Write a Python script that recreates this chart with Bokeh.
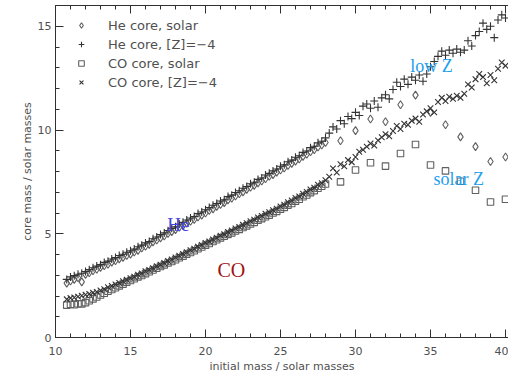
from bokeh.plotting import figure
from bokeh.models import Range1d, LinearAxis, FixedTicker, Legend, LegendItem, Label
from bokeh.embed import file_html
from bokeh.resources import INLINE

# ---------------- data ----------------
# dense model grid, solar and low-Z, 10.75 .. 28.0 Msun
M_DENSE = [10.75, 11.0, 11.25, 11.5, 11.75, 12.0, 12.25, 12.5, 12.75, 13.0,
           13.25, 13.5, 13.75, 14.0, 14.25, 14.5, 14.75, 15.0, 15.25, 15.5,
           15.75, 16.0, 16.25, 16.5, 16.75, 17.0, 17.25, 17.5, 17.75, 18.0,
           18.25, 18.5, 18.75, 19.0, 19.25, 19.5, 19.75, 20.0, 20.25, 20.5,
           20.75, 21.0, 21.25, 21.5, 21.75, 22.0, 22.25, 22.5, 22.75, 23.0,
           23.25, 23.5, 23.75, 24.0, 24.25, 24.5, 24.75, 25.0, 25.25, 25.5,
           25.75, 26.0, 26.25, 26.5, 26.75, 27.0, 27.25, 27.5, 27.75, 28.0]

# sparse solar models 29 .. 40 Msun
M_SOLAR_HI = [29, 30, 31, 32, 33, 34, 35, 36, 37, 38, 39, 40]

# low-Z models above 28 Msun
M_LOWZ_HI = [28.25, 28.5, 28.75, 29.0, 29.25, 29.5, 29.75, 30.0, 30.25, 30.5,
             30.75, 31.0, 31.25, 31.5, 31.75, 32.0, 32.25, 32.5, 32.75, 33.0,
             33.25, 33.5, 33.75, 34.0, 34.25, 34.5, 34.75, 35.0, 35.25, 35.5,
             35.75, 36.0, 36.25, 36.5, 36.75, 37.0, 37.25, 37.5, 37.75, 38.0,
             38.25, 38.5, 38.75, 39.0, 39.25, 39.5, 39.75, 40.0]

HE_SOLAR_DENSE = [2.62, 2.72, 2.80, 2.88, 2.68, 3.04, 3.12, 3.22, 3.29, 3.38,
                  3.46, 3.53, 3.63, 3.70, 3.79, 3.86, 3.95, 4.02, 4.12, 4.20,
                  4.31, 4.40, 4.49, 4.61, 4.70, 4.80, 4.89, 5.01, 5.10, 5.20,
                  5.31, 5.39, 5.51, 5.60, 5.69, 5.81, 5.90, 6.00, 6.12, 6.20,
                  6.32, 6.41, 6.50, 6.63, 6.71, 6.82, 6.93, 7.02, 7.14, 7.24,
                  7.33, 7.45, 7.54, 7.65, 7.77, 7.85, 7.97, 8.07, 8.17, 8.29,
                  8.39, 8.50, 8.60, 8.73, 8.83, 8.95, 9.05, 9.18, 9.28, 9.40]
HE_SOLAR_HI = [9.48, 9.97, 10.53, 10.40, 11.22, 11.68, 10.85, 10.25, 9.67, 9.20, 8.48, 8.70]

CO_SOLAR_DENSE = [1.56, 1.60, 1.58, 1.63, 1.62, 1.68, 1.77, 1.86, 1.95, 2.05,
                  2.13, 2.23, 2.31, 2.40, 2.49, 2.57, 2.67, 2.75, 2.83, 2.92,
                  2.99, 3.08, 3.17, 3.25, 3.34, 3.42, 3.50, 3.59, 3.66, 3.75,
                  3.84, 3.92, 4.02, 4.10, 4.18, 4.28, 4.36, 4.45, 4.53, 4.63,
                  4.71, 4.80, 4.88, 4.97, 5.04, 5.13, 5.21, 5.30, 5.38, 5.47,
                  5.55, 5.65, 5.73, 5.82, 5.90, 6.00, 6.08, 6.18, 6.27, 6.38,
                  6.46, 6.57, 6.66, 6.78, 6.87, 6.98, 7.08, 7.19, 7.29, 7.40]
CO_SOLAR_HI = [7.50, 8.07, 8.42, 8.26, 8.87, 9.30, 8.31, 8.03, 7.53, 7.10, 6.53, 6.66]

HE_LOWZ_DENSE = [2.80, 2.92, 2.98, 3.05, 3.10, 3.18, 3.27, 3.36, 3.44, 3.51,
                 3.62, 3.68, 3.78, 3.85, 3.95, 4.01, 4.11, 4.18, 4.26, 4.37,
                 4.45, 4.56, 4.63, 4.76, 4.84, 4.96, 5.04, 5.15, 5.26, 5.34,
                 5.47, 5.55, 5.66, 5.76, 5.83, 5.97, 6.05, 6.16, 6.26, 6.37,
                 6.46, 6.58, 6.64, 6.79, 6.86, 6.99, 7.07, 7.19, 7.28, 7.41,
                 7.48, 7.62, 7.69, 7.83, 7.91, 8.03, 8.12, 8.25, 8.32, 8.47,
                 8.55, 8.69, 8.76, 8.92, 8.99, 9.15, 9.22, 9.38, 9.46, 9.62]
HE_LOWZ_HI = [9.85, 10.15, 10.05, 10.45, 10.30, 10.65, 10.55, 10.85, 10.70, 11.15,
              11.25, 11.05, 11.40, 11.10, 11.55, 11.70, 11.50, 11.95, 12.30, 12.10,
              12.45, 12.20, 12.55, 12.40, 12.65, 12.35, 12.70, 13.05, 13.30, 13.55,
              13.80, 13.60, 13.85, 13.70, 13.90, 13.75, 13.85, 14.30, 14.05, 14.55,
              14.75, 15.15, 14.85, 15.00, 14.45, 15.30, 15.55, 15.40]

CO_LOWZ_DENSE = [1.84, 1.90, 1.93, 1.97, 2.01, 2.06, 2.10, 2.16, 2.20, 2.27,
                 2.33, 2.42, 2.48, 2.56, 2.63, 2.71, 2.78, 2.86, 2.93, 3.03,
                 3.09, 3.19, 3.26, 3.34, 3.43, 3.51, 3.59, 3.69, 3.76, 3.86,
                 3.94, 4.03, 4.11, 4.21, 4.28, 4.38, 4.46, 4.56, 4.63, 4.73,
                 4.81, 4.91, 4.98, 5.08, 5.16, 5.26, 5.33, 5.43, 5.51, 5.61,
                 5.68, 5.79, 5.86, 5.96, 6.04, 6.14, 6.21, 6.32, 6.40, 6.52,
                 6.60, 6.72, 6.80, 6.93, 7.01, 7.13, 7.22, 7.36, 7.44, 7.58]
CO_LOWZ_HI = [7.75, 8.15, 7.95, 8.35, 8.25, 8.55, 8.45, 8.70, 8.95, 9.05,
              9.20, 9.35, 9.25, 9.50, 9.65, 9.80, 9.70, 9.95, 10.20, 10.05,
              10.30, 10.25, 10.45, 10.55, 10.40, 10.75, 10.90, 11.05, 10.85, 11.35,
              11.55, 11.40, 11.60, 11.50, 11.65, 11.55, 11.75, 12.20, 12.05, 12.45,
              12.70, 12.55, 12.25, 12.65, 12.40, 12.95, 13.25, 13.10]

X_MAJOR = [10, 15, 20, 25, 30, 35, 40]
X_MINOR = list(range(10, 41))
Y_MAJOR = [0, 5, 10, 15]
Y_MINOR = list(range(0, 17))

LEGEND_LABELS = ["He core, solar", "He core, [Z]=\u22124", "CO core, solar", "CO core, [Z]=\u22124"]

# ---------------- figure ----------------
TXT = "#505050"
AX = "#303030"
FONT = "DejaVu Sans"
MK_LIGHT = "#606060"
MK_DARK = "#333333"

p = figure(width=508, height=375, x_range=Range1d(10, 40.2), y_range=Range1d(0, 16),
           output_backend="svg", toolbar_location=None,
           min_border_left=55, min_border_right=0, min_border_top=5, min_border_bottom=38)
p.grid.visible = False
p.outline_line_color = None
p.background_fill_color = "white"
p.border_fill_color = "white"

xt = FixedTicker(ticks=X_MAJOR, minor_ticks=X_MINOR)
yt = FixedTicker(ticks=Y_MAJOR, minor_ticks=Y_MINOR)


def style(ax):
    ax.axis_line_color = AX
    ax.axis_line_width = 1
    ax.major_tick_line_color = AX
    ax.minor_tick_line_color = AX
    ax.major_tick_in = 8
    ax.major_tick_out = 0
    ax.minor_tick_in = 4
    ax.minor_tick_out = 0
    ax.major_label_text_font = FONT
    ax.major_label_text_font_size = "11px"
    ax.major_label_text_color = TXT
    ax.axis_label_text_font = FONT
    ax.axis_label_text_font_size = "11px"
    ax.axis_label_text_font_style = "normal"
    ax.axis_label_text_color = TXT


p.xaxis.ticker = xt
p.yaxis.ticker = yt
style(p.xaxis[0])
style(p.yaxis[0])
p.xaxis.axis_label = "initial mass / solar masses"
p.yaxis.axis_label = "core mass / solar masses"
p.xaxis.major_label_standoff = 9
p.xaxis.axis_label_standoff = 2
p.yaxis.major_label_standoff = 4
p.yaxis.axis_label_standoff = 1

top = LinearAxis(ticker=xt)
style(top)
top.major_label_overrides = {t: "" for t in X_MAJOR}
top.major_label_standoff = 0
p.add_layout(top, "above")

# ---------------- data glyphs ----------------
r_co_s = p.scatter(M_DENSE + M_SOLAR_HI, CO_SOLAR_DENSE + CO_SOLAR_HI, marker="square",
                   size=6.5, fill_color=None, line_color=MK_LIGHT, line_width=1.1)
r_he_s = p.scatter(M_DENSE + M_SOLAR_HI, HE_SOLAR_DENSE + HE_SOLAR_HI, marker="diamond",
                   size=8, fill_color=None, line_color=MK_LIGHT, line_width=1.1)
r_co_z = p.scatter(M_DENSE + M_LOWZ_HI, CO_LOWZ_DENSE + CO_LOWZ_HI, marker="x",
                   size=8, line_color=MK_DARK, line_width=1.1)
r_he_z = p.scatter(M_DENSE + M_LOWZ_HI, HE_LOWZ_DENSE + HE_LOWZ_HI, marker="cross",
                   size=8, line_color=MK_DARK, line_width=1.1)

legend = Legend(items=[LegendItem(label=LEGEND_LABELS[0], renderers=[r_he_s]),
                       LegendItem(label=LEGEND_LABELS[1], renderers=[r_he_z]),
                       LegendItem(label=LEGEND_LABELS[2], renderers=[r_co_s]),
                       LegendItem(label=LEGEND_LABELS[3], renderers=[r_co_z])],
                location="top_left", margin=11, padding=10, glyph_width=30, glyph_height=14,
                label_height=18, spacing=1, label_standoff=12,
                label_text_font=FONT, label_text_font_size="13px", label_text_color=TXT,
                border_line_color=None, background_fill_alpha=0)
p.add_layout(legend)

SERIF = "Liberation Serif"
for txt, x, y, col, fs in [("He", 17.45, 5.45, "#4646e0", "19px"),
                           ("CO", 20.8, 3.25, "#a01414", "20px"),
                           ("low Z", 33.65, 13.1, "#1ea0ee", "18px"),
                           ("solar Z", 35.2, 7.65, "#1ea0ee", "18px")]:
    p.add_layout(Label(x=x, y=y, text=txt, text_color=col, text_font=SERIF,
                       text_font_size=fs, text_baseline="alphabetic", text_align="left"))

open("out.html", "w").write(file_html(p, INLINE))
